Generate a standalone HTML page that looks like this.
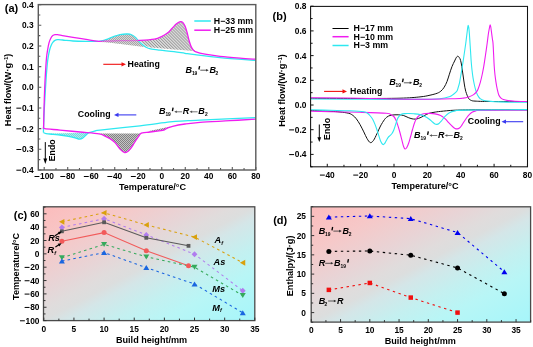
<!DOCTYPE html>
<html><head><meta charset="utf-8"><style>
html,body{margin:0;padding:0;background:#fff;width:533px;height:347px;overflow:hidden}
svg{display:block;font-family:"Liberation Sans", sans-serif;will-change:transform}
</style></head><body>
<svg width="533" height="347" viewBox="0 0 533 347">
<defs>
<pattern id="hgray" patternUnits="userSpaceOnUse" width="2.15" height="3" patternTransform="rotate(-45)">
<rect width="2.15" height="3" fill="#dcdcdc"/><rect width="0.85" height="3" fill="#989898"/></pattern>
<pattern id="hcheck" patternUnits="userSpaceOnUse" width="2" height="2">
<rect width="2" height="2" fill="#c4c4c4"/><rect width="1" height="1" fill="#828282"/><rect x="1" y="1" width="1" height="1" fill="#828282"/></pattern>
<pattern id="hcyan" patternUnits="userSpaceOnUse" width="2" height="2">
<rect width="2" height="2" fill="#aeeeee"/><rect width="1" height="1" fill="#78dadc"/><rect x="1" y="1" width="1" height="1" fill="#78dadc"/></pattern>
<pattern id="hlight" patternUnits="userSpaceOnUse" width="2" height="2">
<rect width="2" height="2" fill="#d6d6d6"/><rect width="1" height="1" fill="#a6a6a6"/><rect x="1" y="1" width="1" height="1" fill="#a6a6a6"/></pattern>
<linearGradient id="bg" x1="0" y1="0" x2="1" y2="1">
<stop offset="0" stop-color="#fcbcbc"/><stop offset="0.19" stop-color="#f6c8c8"/><stop offset="0.36" stop-color="#e8d4d6"/><stop offset="0.45" stop-color="#e0dcdc"/><stop offset="0.5" stop-color="#dcdede"/><stop offset="0.55" stop-color="#d4e6e8"/><stop offset="0.665" stop-color="#c4f0f0"/><stop offset="0.78" stop-color="#b8f6f6"/><stop offset="1" stop-color="#a6f6fa"/></linearGradient>
</defs>
<path d="M98.9,41.3 C100.08,41.02 103.65,40.35 106,39.6 C108.35,38.85 110.67,37.63 113,36.8 C115.33,35.97 117.57,35.07 120,34.6 C122.43,34.13 125.6,33.93 127.6,34 C129.6,34.07 130.68,34.42 132,35 C133.32,35.58 134.42,36.5 135.5,37.5 C136.58,38.5 137.42,39.83 138.5,41 C139.58,42.17 140.75,43.45 142,44.5 C143.25,45.55 145.33,46.83 146,47.3 L98.9,41.3 Z" fill="url(#hlight)"/>
<path d="M140,40.4 C142.4,40.2 150.73,39.87 154.4,39.2 C158.07,38.53 159.83,37.42 162,36.4 C164.17,35.38 165.73,34.42 167.4,33.1 C169.07,31.78 170.48,30.05 172,28.5 C173.52,26.95 175.1,24.95 176.5,23.8 C177.9,22.65 179.32,21.8 180.4,21.6 C181.48,21.4 182.23,21.87 183,22.6 C183.77,23.33 184.33,24.42 185,26 C185.67,27.58 186.33,29.73 187,32.1 C187.67,34.47 188.33,37.85 189,40.2 C189.67,42.55 190.33,44.68 191,46.2 C191.67,47.72 192.33,48.57 193,49.3 C193.67,50.03 194.67,50.38 195,50.6 L195,51.2 L185,50.3 L173.9,49.4 L160,48.3 L150.5,47.4 L146,45.9 L142.5,43.3 L140,41.2 Z" fill="url(#hgray)"/>
<path d="M99,133.6 C100,134.02 103.17,135.27 105,136.1 C106.83,136.93 108.33,137.52 110,138.6 C111.67,139.68 113.33,140.85 115,142.6 C116.67,144.35 118.45,147.48 120,149.1 C121.55,150.72 123.13,151.82 124.3,152.3 C125.47,152.78 126.05,152.48 127,152 C127.95,151.52 129,150.55 130,149.4 C131,148.25 132,146.65 133,145.1 C134,143.55 135.08,141.53 136,140.1 C136.92,138.67 137.75,137.58 138.5,136.5 C139.25,135.42 140.17,134.08 140.5,133.6 Z" fill="url(#hcheck)"/>
<path d="M46,133.6 C47.17,133.73 50.67,134.17 53,134.4 C55.33,134.63 57.67,134.72 60,135 C62.33,135.28 64.5,135.63 67,136.1 C69.5,136.57 72.92,137.3 75,137.8 C77.08,138.3 78.25,139.02 79.5,139.1 C80.75,139.18 81.42,138.98 82.5,138.3 C83.58,137.62 84.92,135.93 86,135 C87.08,134.07 88.5,133.08 89,132.7 Z" fill="url(#hcyan)"/>
<path d="M148,131.2 L170.5,126.4 L168,127.6 L165.5,129.2 L163.6,130.1 L159,130.7 L152,131.6 Z" fill="url(#hcheck)"/>
<path d="M43.4,132.5 C43.5,129.58 43.77,120.42 44,115 C44.23,109.58 44.47,105.83 44.8,100 C45.13,94.17 45.58,86 46,80 C46.42,74 46.9,68 47.3,64 C47.7,60 48.02,58.33 48.4,56 C48.78,53.67 49.13,51.8 49.6,50 C50.07,48.2 50.63,46.52 51.2,45.2 C51.77,43.88 52.37,42.9 53,42.1 C53.63,41.3 54.25,40.8 55,40.4 C55.75,40 56.5,39.8 57.5,39.7 C58.5,39.6 59.75,39.7 61,39.8 C62.25,39.9 63,40.1 65,40.3 C67,40.5 69.5,40.83 73,41 C76.5,41.17 81.68,41.25 86,41.3 C90.32,41.35 95.57,41.58 98.9,41.3 C102.23,41.02 103.65,40.35 106,39.6 C108.35,38.85 110.67,37.63 113,36.8 C115.33,35.97 117.57,35.07 120,34.6 C122.43,34.13 125.6,33.93 127.6,34 C129.6,34.07 130.68,34.42 132,35 C133.32,35.58 134.42,36.5 135.5,37.5 C136.58,38.5 137.42,39.87 138.5,41 C139.58,42.13 140.75,43.27 142,44.3 C143.25,45.33 144.58,46.43 146,47.2 C147.42,47.97 148.17,48.4 150.5,48.9 C152.83,49.4 156.1,49.75 160,50.2 C163.9,50.65 169.73,51.08 173.9,51.6 C178.07,52.12 181.48,52.78 185,53.3 C188.52,53.82 189.17,53.98 195,54.7 C200.83,55.42 209.92,56.65 220,57.6 C230.08,58.55 249.58,59.93 255.5,60.4" stroke="#2ee8f0" stroke-width="1.3" fill="none" stroke-linejoin="round"/>
<path d="M255.5,117.6 C246.25,118.02 211.75,119.55 200,120.1 C188.25,120.65 190,120.62 185,120.9 C180,121.18 177.5,120.98 170,121.8 C162.5,122.62 151.67,124.42 140,125.8 C128.33,127.18 107.5,129.23 100,130.1 C92.5,130.97 96.83,130.57 95,131 C93.17,131.43 90.5,132.03 89,132.7 C87.5,133.37 87.08,134.07 86,135 C84.92,135.93 83.58,137.62 82.5,138.3 C81.42,138.98 80.75,139.18 79.5,139.1 C78.25,139.02 77.08,138.3 75,137.8 C72.92,137.3 69.5,136.57 67,136.1 C64.5,135.63 62.33,135.28 60,135 C57.67,134.72 55.33,134.63 53,134.4 C50.67,134.17 47.6,133.92 46,133.6 C44.4,133.28 43.83,132.68 43.4,132.5" stroke="#2ee8f0" stroke-width="1.3" fill="none" stroke-linejoin="round"/>
<path d="M43.6,128 C43.67,125 43.83,116.33 44,110 C44.17,103.67 44.35,96.33 44.6,90 C44.85,83.67 45.18,77.33 45.5,72 C45.82,66.67 46.15,61.67 46.5,58 C46.85,54.33 47.18,52.53 47.6,50 C48.02,47.47 48.47,44.77 49,42.8 C49.53,40.83 50.17,39.4 50.8,38.2 C51.43,37 52.1,36.2 52.8,35.6 C53.5,35 54.22,34.75 55,34.6 C55.78,34.45 56,34.48 57.5,34.7 C59,34.92 61.42,35.47 64,35.9 C66.58,36.33 69.33,36.73 73,37.3 C76.67,37.87 81.68,38.63 86,39.3 C90.32,39.97 93.23,41.07 98.9,41.3 C104.57,41.53 113.15,40.85 120,40.7 C126.85,40.55 134.27,40.65 140,40.4 C145.73,40.15 150.73,39.87 154.4,39.2 C158.07,38.53 159.83,37.42 162,36.4 C164.17,35.38 165.73,34.42 167.4,33.1 C169.07,31.78 170.48,30.05 172,28.5 C173.52,26.95 175.1,24.95 176.5,23.8 C177.9,22.65 179.32,21.8 180.4,21.6 C181.48,21.4 182.23,21.87 183,22.6 C183.77,23.33 184.33,24.42 185,26 C185.67,27.58 186.33,29.73 187,32.1 C187.67,34.47 188.33,37.85 189,40.2 C189.67,42.55 190.33,44.63 191,46.2 C191.67,47.77 192.17,48.65 193,49.6 C193.83,50.55 194,51.13 196,51.9 C198,52.67 201,53.47 205,54.2 C209,54.93 214.17,55.65 220,56.3 C225.83,56.95 234.08,57.62 240,58.1 C245.92,58.58 252.92,59.02 255.5,59.2" stroke="#f01cf0" stroke-width="1.3" fill="none" stroke-linejoin="round"/>
<path d="M255.5,119.2 C251.25,119.45 239.25,120.18 230,120.7 C220.75,121.22 207.5,121.75 200,122.3 C192.5,122.85 189.57,123.33 185,124 C180.43,124.67 175.6,125.58 172.6,126.3 C169.6,127.02 168.5,127.65 167,128.3 C165.5,128.95 164.93,129.78 163.6,130.2 C162.27,130.62 161.27,130.5 159,130.8 C156.73,131.1 152.75,131.65 150,132 C147.25,132.35 144.08,132.6 142.5,132.9 C140.92,133.2 141.17,133.2 140.5,133.8 C139.83,134.4 139.25,135.45 138.5,136.5 C137.75,137.55 136.92,138.67 136,140.1 C135.08,141.53 134,143.55 133,145.1 C132,146.65 131,148.25 130,149.4 C129,150.55 127.95,151.52 127,152 C126.05,152.48 125.47,152.78 124.3,152.3 C123.13,151.82 121.55,150.72 120,149.1 C118.45,147.48 116.67,144.35 115,142.6 C113.33,140.85 111.67,139.68 110,138.6 C108.33,137.52 106.83,136.9 105,136.1 C103.17,135.3 103.17,134.48 99,133.8 C94.83,133.12 86.5,132.62 80,132 C73.5,131.38 65.87,130.65 60,130.1 C54.13,129.55 47.53,129.05 44.8,128.7 C42.07,128.35 43.8,128.12 43.6,128" stroke="#f01cf0" stroke-width="1.3" fill="none" stroke-linejoin="round"/>
<path d="M106.3,40.35 C107.47,39.88 110.97,38.38 113.3,37.55 C115.63,36.72 117.87,35.82 120.3,35.35 C122.73,34.88 125.9,34.68 127.9,34.75 C129.9,34.82 130.98,35.17 132.3,35.75 C133.62,36.33 134.72,37.25 135.8,38.25 C136.88,39.25 137.72,40.58 138.8,41.75 C139.88,42.92 141.72,44.67 142.3,45.25 L99.5,41.9 Z" fill="url(#hlight)" opacity="0.55"/>
<rect x="38.3" y="4.6" width="217.5" height="165.4" fill="none" stroke="#5a5a5a" stroke-width="1.4"/>
<path d="M44.2,170 v-3 M67.71,170 v-3 M91.22,170 v-3 M114.74,170 v-3 M138.25,170 v-3 M161.76,170 v-3 M185.27,170 v-3 M208.78,170 v-3 M232.3,170 v-3 M255.81,170 v-3 M55.96,170 v-2 M79.47,170 v-2 M102.98,170 v-2 M126.49,170 v-2 M150,170 v-2 M173.52,170 v-2 M197.03,170 v-2 M220.54,170 v-2 M244.05,170 v-2 M38.3,170 h3 M38.3,149.32 h3 M38.3,128.65 h3 M38.3,107.97 h3 M38.3,87.3 h3 M38.3,66.62 h3 M38.3,45.95 h3 M38.3,25.28 h3 M38.3,4.6 h3 M38.3,159.66 h2 M38.3,138.99 h2 M38.3,118.31 h2 M38.3,97.64 h2 M38.3,76.96 h2 M38.3,56.29 h2 M38.3,35.61 h2 M38.3,14.94 h2 " stroke="#5a5a5a" stroke-width="1.1" fill="none"/>
<path d="M16.37,170.19 h4.9" stroke="#000" stroke-width="1.01"/>
<text x="21.92" y="173" font-size="8.4" font-weight="bold">0.4</text>
<path d="M16.37,149.51 h4.9" stroke="#000" stroke-width="1.01"/>
<text x="21.92" y="152.32" font-size="8.4" font-weight="bold">0.3</text>
<path d="M16.37,128.84 h4.9" stroke="#000" stroke-width="1.01"/>
<text x="21.92" y="131.65" font-size="8.4" font-weight="bold">0.2</text>
<path d="M16.37,108.16 h4.9" stroke="#000" stroke-width="1.01"/>
<text x="21.92" y="110.97" font-size="8.4" font-weight="bold">0.1</text>
<text x="21.92" y="90.3" font-size="8.4" font-weight="bold">0.0</text>
<text x="21.92" y="69.62" font-size="8.4" font-weight="bold">0.1</text>
<text x="21.92" y="48.95" font-size="8.4" font-weight="bold">0.2</text>
<text x="21.92" y="28.28" font-size="8.4" font-weight="bold">0.3</text>
<text x="21.92" y="7.6" font-size="8.4" font-weight="bold">0.4</text>
<path d="M34.49,176.49 h4.9" stroke="#000" stroke-width="1.01"/>
<text x="40.04" y="179.3" font-size="8.4" font-weight="bold">100</text>
<path d="M60.34,176.49 h4.9" stroke="#000" stroke-width="1.01"/>
<text x="65.89" y="179.3" font-size="8.4" font-weight="bold">80</text>
<path d="M83.85,176.49 h4.9" stroke="#000" stroke-width="1.01"/>
<text x="89.4" y="179.3" font-size="8.4" font-weight="bold">60</text>
<path d="M107.37,176.49 h4.9" stroke="#000" stroke-width="1.01"/>
<text x="112.92" y="179.3" font-size="8.4" font-weight="bold">40</text>
<path d="M130.88,176.49 h4.9" stroke="#000" stroke-width="1.01"/>
<text x="136.43" y="179.3" font-size="8.4" font-weight="bold">20</text>
<text x="159.42" y="179.3" font-size="8.4" font-weight="bold">0</text>
<text x="180.6" y="179.3" font-size="8.4" font-weight="bold">20</text>
<text x="204.11" y="179.3" font-size="8.4" font-weight="bold">40</text>
<text x="227.63" y="179.3" font-size="8.4" font-weight="bold">60</text>
<text x="251.14" y="179.3" font-size="8.4" font-weight="bold">80</text>
<text x="152.5" y="189.7" font-size="9.1" text-anchor="middle" font-weight="bold" font-style="normal" fill="#000">Temperature/°C</text>
<text transform="translate(11.1,89.9) rotate(-90)" font-size="9.1" text-anchor="middle" font-weight="bold">Heat flow/(W·g<tspan dy="-3" font-size="5.5">−1</tspan><tspan dy="3">)</tspan></text>
<text x="4.8" y="11.7" font-size="11" text-anchor="start" font-weight="bold" font-style="normal" fill="#000">(a)</text>
<path d="M194.3,21 H210.8" stroke="#2ee8f0" stroke-width="1.5"/>
<path d="M194.3,30.2 H210.8" stroke="#f01cf0" stroke-width="1.5"/>
<text x="213.8" y="23.9" font-size="8.8" text-anchor="start" font-weight="bold" font-style="normal" fill="#000">H−33 mm</text>
<text x="213.8" y="33" font-size="8.8" text-anchor="start" font-weight="bold" font-style="normal" fill="#000">H−25 mm</text>
<path d="M103.3,64.3 H122.5" stroke="#f01010" stroke-width="1.1"/><path d="M121.5,62.2 L126,64.3 L121.5,66.4 Z" fill="#f01010"/>
<text x="127.6" y="67" font-size="8.8" text-anchor="start" font-weight="bold" font-style="normal" fill="#000">Heating</text>
<text x="77.8" y="116.6" font-size="8.8" text-anchor="start" font-weight="bold" font-style="normal" fill="#000">Cooling</text>
<path d="M117.5,114.9 H136.3" stroke="#3a3af0" stroke-width="1.1"/><path d="M118.5,112.8 L114,114.9 L118.5,117 Z" fill="#3a3af0"/>
<text x="185.6" y="72.8" font-size="9" font-weight="bold" font-style="italic">B</text>
<text x="191.9" y="74.7" font-size="4.9" font-weight="bold">19</text>
<path d="M199.6,66.1 L198.9,69.5" stroke="#000" stroke-width="1.35"/>
<path d="M200.3,70.2 H207.2" stroke="#333" stroke-width="0.8"/><path d="M206.1,68.9 L208.7,70.2 L206.1,71.5 Z" fill="#333"/>
<text x="209.4" y="72.8" font-size="9" font-weight="bold" font-style="italic">B</text>
<text x="215.6" y="74.7" font-size="4.9" font-weight="bold">2</text>
<text x="158.9" y="114.4" font-size="9" font-weight="bold" font-style="italic">B</text>
<text x="165.4" y="116.3" font-size="4.9" font-weight="bold">19</text>
<path d="M173.1,107.7 L172.4,111.1" stroke="#000" stroke-width="1.35"/>
<path d="M175.7,111.8 H182.1" stroke="#555" stroke-width="0.8"/><path d="M176.8,110.5 L174.2,111.8 L176.8,113.1 Z" fill="#555"/>
<text x="182.8" y="114.4" font-size="9" font-weight="bold" font-style="italic">R</text>
<path d="M191,111.8 H197.6" stroke="#555" stroke-width="0.8"/><path d="M192.1,110.5 L189.5,111.8 L192.1,113.1 Z" fill="#555"/>
<text x="198.2" y="114.4" font-size="9" font-weight="bold" font-style="italic">B</text>
<text x="204.9" y="116.3" font-size="4.9" font-weight="bold">2</text>
<path d="M45.3,142.1 V160" stroke="#000" stroke-width="1"/><path d="M43.4,158.6 L45.3,164 L47.2,158.6 Z" fill="#000"/>
<text transform="translate(54.6,150.3) rotate(-90)" font-size="8.8" text-anchor="middle" font-weight="bold">Endo</text>
<path d="M311,110.5 C314.17,110.63 325.17,111.05 330,111.3 C334.83,111.55 336.87,111.67 340,112 C343.13,112.33 346.63,112.72 348.8,113.3 C350.97,113.88 351.75,114.58 353,115.5 C354.25,116.42 355.13,117.3 356.3,118.8 C357.47,120.3 358.75,122.32 360,124.5 C361.25,126.68 362.63,129.57 363.8,131.9 C364.97,134.23 365.92,136.72 367,138.5 C368.08,140.28 369.22,142.28 370.3,142.6 C371.38,142.92 372.4,141.87 373.5,140.4 C374.6,138.93 375.73,136.2 376.9,133.8 C378.07,131.4 379.25,128.35 380.5,126 C381.75,123.65 383.32,121.2 384.4,119.7 C385.48,118.2 386.07,117.7 387,117 C387.93,116.3 388.67,115.87 390,115.5 C391.33,115.13 393.12,114.88 395,114.8 C396.88,114.72 399.63,114.78 401.3,115 C402.97,115.22 403.75,115.63 405,116.1 C406.25,116.57 407.63,117.35 408.8,117.8 C409.97,118.25 410.9,118.58 412,118.8 C413.1,119.02 414.32,119.17 415.4,119.1 C416.48,119.03 417.42,118.77 418.5,118.4 C419.58,118.03 420.27,117.7 421.9,116.9 C423.53,116.1 426.28,114.37 428.3,113.6 C430.32,112.83 431.95,112.67 434,112.3 C436.05,111.93 437.08,111.75 440.6,111.4 C444.12,111.05 448.53,110.47 455.1,110.2 C461.67,109.93 468.02,109.87 480,109.8 C491.98,109.73 519.17,109.8 527,109.8" stroke="#111" stroke-width="1.0" fill="none" stroke-linejoin="round"/>
<path d="M311,111.1 C314.17,111.2 321.83,111.5 330,111.7 C338.17,111.9 350.62,112.05 360,112.3 C369.38,112.55 381.22,112.85 386.3,113.2 C391.38,113.55 389.25,113.85 390.5,114.4 C391.75,114.95 392.92,115.6 393.8,116.5 C394.68,117.4 395.18,118.48 395.8,119.8 C396.42,121.12 396.83,122.37 397.5,124.4 C398.17,126.43 399.02,129.18 399.8,132 C400.58,134.82 401.57,138.88 402.2,141.3 C402.83,143.72 403.13,145.23 403.6,146.5 C404.07,147.77 404.47,148.73 405,148.9 C405.53,149.07 406.17,148.52 406.8,147.5 C407.43,146.48 408.17,144.63 408.8,142.8 C409.43,140.97 409.98,138.72 410.6,136.5 C411.22,134.28 411.88,131.67 412.5,129.5 C413.12,127.33 413.67,125.28 414.3,123.5 C414.93,121.72 415.52,120.08 416.3,118.8 C417.08,117.52 418.07,116.55 419,115.8 C419.93,115.05 420.73,114.68 421.9,114.3 C423.07,113.92 424.65,113.65 426,113.5 C427.35,113.35 428.5,113.33 430,113.4 C431.5,113.47 433.23,113.55 435,113.9 C436.77,114.25 438.93,114.72 440.6,115.5 C442.27,116.28 443.62,117.38 445,118.6 C446.38,119.82 447.65,121.48 448.9,122.8 C450.15,124.12 451.48,125.57 452.5,126.5 C453.52,127.43 454.22,128 455,128.4 C455.78,128.8 456.45,128.97 457.2,128.9 C457.95,128.83 458.78,128.52 459.5,128 C460.22,127.48 460.87,126.67 461.5,125.8 C462.13,124.93 462.47,124.1 463.3,122.8 C464.13,121.5 465.47,119.4 466.5,118 C467.53,116.6 468.5,115.38 469.5,114.4 C470.5,113.42 471.47,112.68 472.5,112.1 C473.53,111.52 474.12,111.18 475.7,110.9 C477.28,110.62 473.45,110.5 482,110.4 C490.55,110.3 519.5,110.32 527,110.3" stroke="#f01cf0" stroke-width="1.1" fill="none" stroke-linejoin="round"/>
<path d="M311,109.8 C314.17,109.88 323.5,110.13 330,110.3 C336.5,110.47 344.37,110.55 350,110.8 C355.63,111.05 360.88,111.38 363.8,111.8 C366.72,112.22 366.42,112.6 367.5,113.3 C368.58,114 369.42,114.97 370.3,116 C371.18,117.03 372.02,118.1 372.8,119.5 C373.58,120.9 374.3,122.65 375,124.4 C375.7,126.15 376.37,128.13 377,130 C377.63,131.87 378.17,133.68 378.8,135.6 C379.43,137.52 380.12,140.02 380.8,141.5 C381.48,142.98 382.27,144.15 382.9,144.5 C383.53,144.85 384.03,144.25 384.6,143.6 C385.17,142.95 385.7,141.65 386.3,140.6 C386.9,139.55 387.58,138.13 388.2,137.3 C388.82,136.47 389.37,136.23 390,135.6 C390.63,134.97 391.37,134.43 392,133.5 C392.63,132.57 393.17,131.58 393.8,130 C394.43,128.42 395.18,125.87 395.8,124 C396.42,122.13 396.9,120.17 397.5,118.8 C398.1,117.43 398.77,116.57 399.4,115.8 C400.03,115.03 400.37,114.57 401.3,114.2 C402.23,113.83 403.75,113.72 405,113.6 C406.25,113.48 407.3,113.47 408.8,113.5 C410.3,113.53 412.13,113.62 414,113.8 C415.87,113.98 418.17,114.15 420,114.6 C421.83,115.05 423.5,115.77 425,116.5 C426.5,117.23 427.75,118.08 429,119 C430.25,119.92 431.5,121.17 432.5,122 C433.5,122.83 434.27,123.6 435,124 C435.73,124.4 436.23,124.48 436.9,124.4 C437.57,124.32 438.23,124.1 439,123.5 C439.77,122.9 440.53,121.93 441.5,120.8 C442.47,119.67 443.55,118 444.8,116.7 C446.05,115.4 447.28,113.97 449,113 C450.72,112.03 452.43,111.38 455.1,110.9 C457.77,110.42 453.02,110.32 465,110.1 C476.98,109.88 516.67,109.68 527,109.6" stroke="#2ee8f0" stroke-width="1.1" fill="none" stroke-linejoin="round"/>
<path d="M311,98.3 C319.17,98.33 345.17,98.52 360,98.5 C374.83,98.48 390,98.47 400,98.2 C410,97.93 415,97.4 420,96.9 C425,96.4 427.12,95.82 430,95.2 C432.88,94.58 435.47,93.9 437.3,93.2 C439.13,92.5 439.85,92 441,91 C442.15,90 443.2,88.78 444.2,87.2 C445.2,85.62 446.13,83.67 447,81.5 C447.87,79.33 448.57,76.7 449.4,74.2 C450.23,71.7 451.13,68.7 452,66.5 C452.87,64.3 453.85,62.55 454.6,61 C455.35,59.45 455.93,57.98 456.5,57.2 C457.07,56.42 457.43,56.08 458,56.3 C458.57,56.52 459.37,57.38 459.9,58.5 C460.43,59.62 460.8,61.08 461.2,63 C461.6,64.92 461.95,67.67 462.3,70 C462.65,72.33 462.97,74.67 463.3,77 C463.63,79.33 463.88,81.58 464.3,84 C464.72,86.42 465.1,89.13 465.8,91.5 C466.5,93.87 467.63,96.73 468.5,98.2 C469.37,99.67 469.92,99.82 471,100.3 C472.08,100.78 471.83,100.9 475,101.1 C478.17,101.3 481.33,101.42 490,101.5 C498.67,101.58 520.83,101.58 527,101.6" stroke="#111" stroke-width="1.0" fill="none" stroke-linejoin="round"/>
<path d="M311,99 C319.17,99.05 341.83,99.23 360,99.3 C378.17,99.37 406.67,99.5 420,99.4 C433.33,99.3 435.1,99.15 440,98.7 C444.9,98.25 447.15,97.45 449.4,96.7 C451.65,95.95 452.27,95.1 453.5,94.2 C454.73,93.3 456.02,92.42 456.8,91.3 C457.58,90.18 457.73,89 458.2,87.5 C458.67,86 459.07,84.88 459.6,82.3 C460.13,79.72 460.82,75.47 461.4,72 C461.98,68.53 462.58,64.83 463.1,61.5 C463.62,58.17 464.05,55.08 464.5,52 C464.95,48.92 465.4,46 465.8,43 C466.2,40 466.58,36.57 466.9,34 C467.22,31.43 467.48,29.07 467.7,27.6 C467.92,26.13 468.02,25.2 468.2,25.2 C468.38,25.2 468.6,26.13 468.8,27.6 C469,29.07 469.2,31.43 469.4,34 C469.6,36.57 469.8,40 470,43 C470.2,46 470.4,48.92 470.6,52 C470.8,55.08 470.97,58.5 471.2,61.5 C471.43,64.5 471.7,67.3 472,70 C472.3,72.7 472.62,75.28 473,77.7 C473.38,80.12 473.83,82.38 474.3,84.5 C474.77,86.62 475.27,88.65 475.8,90.4 C476.33,92.15 476.8,93.65 477.5,95 C478.2,96.35 478.75,97.53 480,98.5 C481.25,99.47 481.67,100.23 485,100.8 C488.33,101.37 493,101.65 500,101.9 C507,102.15 522.5,102.23 527,102.3" stroke="#2ee8f0" stroke-width="1.1" fill="none" stroke-linejoin="round"/>
<path d="M311,97.7 C319.17,97.78 341.83,97.93 360,98.2 C378.17,98.47 404.17,99.22 420,99.3 C435.83,99.38 447.8,98.9 455,98.7 C462.2,98.5 460.95,98.4 463.2,98.1 C465.45,97.8 466.77,97.48 468.5,96.9 C470.23,96.32 472.27,95.45 473.6,94.6 C474.93,93.75 475.77,92.7 476.5,91.8 C477.23,90.9 477.37,90.78 478,89.2 C478.63,87.62 479.6,84.75 480.3,82.3 C481,79.85 481.62,77.18 482.2,74.5 C482.78,71.82 483.25,69.45 483.8,66.2 C484.35,62.95 484.93,58.87 485.5,55 C486.07,51.13 486.7,46.67 487.2,43 C487.7,39.33 488.1,35.67 488.5,33 C488.9,30.33 489.32,28.38 489.6,27 C489.88,25.62 490,24.7 490.2,24.7 C490.4,24.7 490.57,25.62 490.8,27 C491.03,28.38 491.33,31 491.6,33 C491.87,35 492.17,37.33 492.4,39 C492.63,40.67 492.8,40.5 493,43 C493.2,45.5 493.4,50.17 493.6,54 C493.8,57.83 493.97,62.5 494.2,66 C494.43,69.5 494.7,72.28 495,75 C495.3,77.72 495.63,79.97 496,82.3 C496.37,84.63 496.73,86.88 497.2,89 C497.67,91.12 498.17,93.47 498.8,95 C499.43,96.53 500.23,97.43 501,98.2 C501.77,98.97 502.23,99.2 503.4,99.6 C504.57,100 506.07,100.33 508,100.6 C509.93,100.87 511.83,101.05 515,101.2 C518.17,101.35 525,101.45 527,101.5" stroke="#f01cf0" stroke-width="1.1" fill="none" stroke-linejoin="round"/>
<rect x="310.6" y="6.4" width="216.9" height="160.4" fill="none" stroke="#111" stroke-width="1.05"/>
<path d="M327.28,166.8 v-3 M360.64,166.8 v-3 M394,166.8 v-3 M427.36,166.8 v-3 M460.72,166.8 v-3 M494.08,166.8 v-3 M527.44,166.8 v-3 M310.6,166.8 v-2 M343.96,166.8 v-2 M377.32,166.8 v-2 M410.68,166.8 v-2 M444.04,166.8 v-2 M477.4,166.8 v-2 M510.76,166.8 v-2 M310.6,154.4 h3 M310.6,129.7 h3 M310.6,105 h3 M310.6,80.3 h3 M310.6,55.6 h3 M310.6,30.9 h3 M310.6,6.2 h3 M310.6,166.75 h2 M310.6,142.05 h2 M310.6,117.35 h2 M310.6,92.65 h2 M310.6,67.95 h2 M310.6,43.25 h2 M310.6,18.55 h2 " stroke="#111" stroke-width="1" fill="none"/>
<path d="M289.17,154.59 h4.9" stroke="#000" stroke-width="1.01"/>
<text x="294.72" y="157.4" font-size="8.4" font-weight="bold">0.4</text>
<path d="M289.17,129.89 h4.9" stroke="#000" stroke-width="1.01"/>
<text x="294.72" y="132.7" font-size="8.4" font-weight="bold">0.2</text>
<text x="294.72" y="108" font-size="8.4" font-weight="bold">0.0</text>
<text x="294.72" y="83.3" font-size="8.4" font-weight="bold">0.2</text>
<text x="294.72" y="58.6" font-size="8.4" font-weight="bold">0.4</text>
<text x="294.72" y="33.9" font-size="8.4" font-weight="bold">0.6</text>
<text x="294.72" y="9.2" font-size="8.4" font-weight="bold">0.8</text>
<path d="M319.91,175.09 h4.9" stroke="#000" stroke-width="1.01"/>
<text x="325.46" y="177.9" font-size="8.4" font-weight="bold">40</text>
<path d="M353.27,175.09 h4.9" stroke="#000" stroke-width="1.01"/>
<text x="358.82" y="177.9" font-size="8.4" font-weight="bold">20</text>
<text x="391.66" y="177.9" font-size="8.4" font-weight="bold">0</text>
<text x="422.69" y="177.9" font-size="8.4" font-weight="bold">20</text>
<text x="456.05" y="177.9" font-size="8.4" font-weight="bold">40</text>
<text x="489.41" y="177.9" font-size="8.4" font-weight="bold">60</text>
<text x="522.77" y="177.9" font-size="8.4" font-weight="bold">80</text>
<text x="425" y="189.4" font-size="9.1" text-anchor="middle" font-weight="bold" font-style="normal" fill="#000">Temperature/°C</text>
<text transform="translate(284.8,90.5) rotate(-90)" font-size="9.1" text-anchor="middle" font-weight="bold">Heat flow/(W·g<tspan dy="-3" font-size="5.5">−1</tspan><tspan dy="3">)</tspan></text>
<text x="272.6" y="19.6" font-size="11" text-anchor="start" font-weight="bold" font-style="normal" fill="#000">(b)</text>
<path d="M332.5,28.5 H348.6" stroke="#000" stroke-width="1"/>
<path d="M332.5,36.7 H348.6" stroke="#f01cf0" stroke-width="1.5"/>
<path d="M332.5,45.5 H348.6" stroke="#2ee8f0" stroke-width="1.5"/>
<text x="353.6" y="30.9" font-size="8.8" text-anchor="start" font-weight="bold" font-style="normal" fill="#000">H−17 mm</text>
<text x="353.6" y="39.6" font-size="8.8" text-anchor="start" font-weight="bold" font-style="normal" fill="#000">H−10 mm</text>
<text x="353.6" y="48.1" font-size="8.8" text-anchor="start" font-weight="bold" font-style="normal" fill="#000">H−3 mm</text>
<path d="M324.1,91.4 H343.5" stroke="#f01010" stroke-width="1.1"/><path d="M342.5,89.3 L347,91.4 L342.5,93.5 Z" fill="#f01010"/>
<text x="350.1" y="94.4" font-size="8.8" text-anchor="start" font-weight="bold" font-style="normal" fill="#000">Heating</text>
<text x="467.8" y="124.4" font-size="8.8" text-anchor="start" font-weight="bold" font-style="normal" fill="#000">Cooling</text>
<path d="M505,121.7 H523.2" stroke="#3a3af0" stroke-width="1.1"/><path d="M506,119.6 L501.5,121.7 L506,123.8 Z" fill="#3a3af0"/>
<text x="389.2" y="85.4" font-size="9" font-weight="bold" font-style="italic">B</text>
<text x="395.5" y="87.3" font-size="4.9" font-weight="bold">19</text>
<path d="M403.2,78.7 L402.5,82.1" stroke="#000" stroke-width="1.35"/>
<path d="M403.9,82.8 H410.8" stroke="#333" stroke-width="0.8"/><path d="M409.7,81.5 L412.3,82.8 L409.7,84.1 Z" fill="#333"/>
<text x="413" y="85.4" font-size="9" font-weight="bold" font-style="italic">B</text>
<text x="419.2" y="87.3" font-size="4.9" font-weight="bold">2</text>
<text x="414.1" y="138.1" font-size="9" font-weight="bold" font-style="italic">B</text>
<text x="420.6" y="140" font-size="4.9" font-weight="bold">19</text>
<path d="M428.3,131.4 L427.6,134.8" stroke="#000" stroke-width="1.35"/>
<path d="M430.9,135.5 H437.3" stroke="#555" stroke-width="0.8"/><path d="M432,134.2 L429.4,135.5 L432,136.8 Z" fill="#555"/>
<text x="438" y="138.1" font-size="9" font-weight="bold" font-style="italic">R</text>
<path d="M446.2,135.5 H452.8" stroke="#555" stroke-width="0.8"/><path d="M447.3,134.2 L444.7,135.5 L447.3,136.8 Z" fill="#555"/>
<text x="453.4" y="138.1" font-size="9" font-weight="bold" font-style="italic">B</text>
<text x="460.1" y="140" font-size="4.9" font-weight="bold">2</text>
<path d="M319.3,124.5 V138.5" stroke="#000" stroke-width="1"/><path d="M317.4,137.3 L319.3,142 L321.2,137.3 Z" fill="#000"/>
<text transform="translate(330.2,128.9) rotate(-90)" font-size="8.8" text-anchor="middle" font-weight="bold">Endo</text>
<rect x="43.5" y="206.8" width="211.3" height="113.8" fill="url(#bg)" stroke="none" stroke-width="0"/>
<path d="M61.89,221.81 L104.09,212.8 L146.29,224.88 L194.52,237.03 L242.76,262.73" stroke="#d9a10e" stroke-width="1.05" fill="none" stroke-dasharray="2.6,3.2"/>
<path d="M61.89,227.42 L104.09,218.74 L146.29,234.89 L194.52,254.18 L242.76,290.83" stroke="#b07cee" stroke-width="1.05" fill="none" stroke-dasharray="2.6,3.2"/>
<path d="M61.89,231.29 L104.09,222.28 L146.29,237.83 L188.5,245.84" stroke="#5a5a5a" stroke-width="1.05" fill="none"/>
<path d="M61.89,241.3 L104.09,232.62 L146.29,250.78 L188.5,265.73" stroke="#f25a5a" stroke-width="1.05" fill="none"/>
<path d="M61.89,257.72 L104.09,244.37 L146.29,256.79 L194.52,267.2 L242.76,295.5" stroke="#35aa5c" stroke-width="1.05" fill="none" stroke-dasharray="2.6,3.2"/>
<path d="M61.89,261.13 L104.09,252.52 L146.29,267.67 L194.52,284.02 L242.76,312.79" stroke="#1a66e0" stroke-width="1.05" fill="none" stroke-dasharray="2.6,3.2"/>
<path d="M58.99,221.81 L64.39,218.91 L64.39,224.71 Z" fill="#d9a10e"/>
<path d="M101.19,212.8 L106.59,209.9 L106.59,215.7 Z" fill="#d9a10e"/>
<path d="M143.39,224.88 L148.79,221.98 L148.79,227.78 Z" fill="#d9a10e"/>
<path d="M191.62,237.03 L197.02,234.13 L197.02,239.93 Z" fill="#d9a10e"/>
<path d="M239.86,262.73 L245.26,259.83 L245.26,265.63 Z" fill="#d9a10e"/>
<path d="M61.89,224.42 L64.79,227.42 L61.89,230.42 L58.99,227.42 Z" fill="#b07cee"/>
<path d="M104.09,215.74 L106.99,218.74 L104.09,221.74 L101.19,218.74 Z" fill="#b07cee"/>
<path d="M146.29,231.89 L149.19,234.89 L146.29,237.89 L143.39,234.89 Z" fill="#b07cee"/>
<path d="M194.52,251.18 L197.42,254.18 L194.52,257.18 L191.62,254.18 Z" fill="#b07cee"/>
<path d="M242.76,287.83 L245.66,290.83 L242.76,293.83 L239.86,290.83 Z" fill="#b07cee"/>
<rect x="59.99" y="229.39" width="3.8" height="3.8" fill="#5a5a5a"/>
<rect x="102.19" y="220.38" width="3.8" height="3.8" fill="#5a5a5a"/>
<rect x="144.39" y="235.93" width="3.8" height="3.8" fill="#5a5a5a"/>
<rect x="186.6" y="243.94" width="3.8" height="3.8" fill="#5a5a5a"/>
<circle cx="61.89" cy="241.3" r="2.5" fill="#f25a5a"/>
<circle cx="104.09" cy="232.62" r="2.5" fill="#f25a5a"/>
<circle cx="146.29" cy="250.78" r="2.5" fill="#f25a5a"/>
<circle cx="188.5" cy="265.73" r="2.5" fill="#f25a5a"/>
<path d="M58.89,255.32 L64.89,255.32 L61.89,260.32 Z" fill="#35aa5c"/>
<path d="M101.09,241.97 L107.09,241.97 L104.09,246.97 Z" fill="#35aa5c"/>
<path d="M143.29,254.39 L149.29,254.39 L146.29,259.39 Z" fill="#35aa5c"/>
<path d="M191.52,264.8 L197.52,264.8 L194.52,269.8 Z" fill="#35aa5c"/>
<path d="M239.76,293.1 L245.76,293.1 L242.76,298.1 Z" fill="#35aa5c"/>
<path d="M58.89,263.53 L64.89,263.53 L61.89,258.53 Z" fill="#1a66e0"/>
<path d="M101.09,254.92 L107.09,254.92 L104.09,249.92 Z" fill="#1a66e0"/>
<path d="M143.29,270.07 L149.29,270.07 L146.29,265.07 Z" fill="#1a66e0"/>
<path d="M191.52,286.42 L197.52,286.42 L194.52,281.42 Z" fill="#1a66e0"/>
<path d="M239.76,315.19 L245.76,315.19 L242.76,310.19 Z" fill="#1a66e0"/>
<rect x="43.5" y="206.8" width="211.3" height="113.8" fill="none" stroke="#4a4a4a" stroke-width="1.3"/>
<path d="M43.8,320.6 v-3 M73.94,320.6 v-3 M104.09,320.6 v-3 M134.24,320.6 v-3 M164.38,320.6 v-3 M194.52,320.6 v-3 M224.67,320.6 v-3 M254.81,320.6 v-3 M58.87,320.6 v-2 M89.02,320.6 v-2 M119.16,320.6 v-2 M149.31,320.6 v-2 M179.45,320.6 v-2 M209.6,320.6 v-2 M239.74,320.6 v-2 M43.5,320.6 h3 M43.5,307.25 h3 M43.5,293.9 h3 M43.5,280.55 h3 M43.5,267.2 h3 M43.5,253.85 h3 M43.5,240.5 h3 M43.5,227.15 h3 M43.5,213.8 h3 M43.5,313.93 h2 M43.5,300.57 h2 M43.5,287.23 h2 M43.5,273.88 h2 M43.5,260.53 h2 M43.5,247.18 h2 M43.5,233.83 h2 M43.5,220.48 h2 M43.5,207.12 h2 " stroke="#333" stroke-width="1" fill="none"/>
<path d="M19.94,320.79 h4.9" stroke="#000" stroke-width="1.01"/>
<text x="25.49" y="323.6" font-size="8.4" font-weight="bold">100</text>
<path d="M24.61,307.44 h4.9" stroke="#000" stroke-width="1.01"/>
<text x="30.16" y="310.25" font-size="8.4" font-weight="bold">80</text>
<path d="M24.61,294.09 h4.9" stroke="#000" stroke-width="1.01"/>
<text x="30.16" y="296.9" font-size="8.4" font-weight="bold">60</text>
<path d="M24.61,280.74 h4.9" stroke="#000" stroke-width="1.01"/>
<text x="30.16" y="283.55" font-size="8.4" font-weight="bold">40</text>
<path d="M24.61,267.39 h4.9" stroke="#000" stroke-width="1.01"/>
<text x="30.16" y="270.2" font-size="8.4" font-weight="bold">20</text>
<text x="34.83" y="256.85" font-size="8.4" font-weight="bold">0</text>
<text x="30.16" y="243.5" font-size="8.4" font-weight="bold">20</text>
<text x="30.16" y="230.15" font-size="8.4" font-weight="bold">40</text>
<text x="30.16" y="216.8" font-size="8.4" font-weight="bold">60</text>
<text x="41.46" y="331.9" font-size="8.4" font-weight="bold">0</text>
<text x="71.61" y="331.9" font-size="8.4" font-weight="bold">5</text>
<text x="99.42" y="331.9" font-size="8.4" font-weight="bold">10</text>
<text x="129.56" y="331.9" font-size="8.4" font-weight="bold">15</text>
<text x="159.71" y="331.9" font-size="8.4" font-weight="bold">20</text>
<text x="189.85" y="331.9" font-size="8.4" font-weight="bold">25</text>
<text x="220" y="331.9" font-size="8.4" font-weight="bold">30</text>
<text x="250.14" y="331.9" font-size="8.4" font-weight="bold">35</text>
<text x="151.6" y="343.3" font-size="9.1" text-anchor="middle" font-weight="bold" font-style="normal" fill="#000">Build height/mm</text>
<text transform="translate(18.8,266.4) rotate(-90)" font-size="9.1" text-anchor="middle" font-weight="bold">Temperature/°C</text>
<text x="13.8" y="219" font-size="11" text-anchor="start" font-weight="bold" font-style="normal" fill="#000">(c)</text>
<text x="214.5" y="242.7" font-size="9.2" font-weight="bold" font-style="italic">A<tspan font-size="5.5" dy="1.8">f</tspan></text>
<text x="213.5" y="264.6" font-size="9.2" text-anchor="start" font-weight="bold" font-style="italic" fill="#000">As</text>
<text x="212.3" y="291.5" font-size="9.2" text-anchor="start" font-weight="bold" font-style="italic" fill="#000">Ms</text>
<text x="212.3" y="310.6" font-size="9.2" font-weight="bold" font-style="italic">M<tspan font-size="5.5" dy="1.8">f</tspan></text>
<text x="48.2" y="241.3" font-size="9.2" text-anchor="start" font-weight="bold" font-style="italic" fill="#000">Rs</text>
<text x="47.5" y="253" font-size="9.2" font-weight="bold" font-style="italic">R<tspan font-size="5.5" dy="1.8">f</tspan></text>
<path d="M55,235.7 L59.2,232.98" stroke="#000" stroke-width="1.1"/>
<path d="M61.8,231.3 L59.65,234.6 L57.91,231.91 Z" fill="#000"/>
<path d="M55.4,247 L58.96,244.82" stroke="#000" stroke-width="1.1"/>
<path d="M61.6,243.2 L59.37,246.45 L57.69,243.72 Z" fill="#000"/>
<rect x="311.2" y="206.8" width="219.4" height="115.3" fill="url(#bg)" stroke="none" stroke-width="0"/>
<path d="M328.85,217.12 L369.8,215.97 L410.75,218.66 L457.55,232.52 L504.35,271.79" stroke="#0000f0" stroke-width="1.1" fill="none" stroke-dasharray="2.4,3.6"/>
<path d="M328.85,251.39 L369.8,251 L410.75,255.24 L457.55,267.94 L504.35,293.74" stroke="#000000" stroke-width="1.1" fill="none" stroke-dasharray="2.4,3.6"/>
<path d="M328.85,289.88 L369.8,282.96 L410.75,297.59 L457.55,312.6" stroke="#f01010" stroke-width="1.1" fill="none" stroke-dasharray="2.4,3.6"/>
<path d="M325.85,219.52 L331.85,219.52 L328.85,214.52 Z" fill="#0000f0"/>
<path d="M366.8,218.37 L372.8,218.37 L369.8,213.37 Z" fill="#0000f0"/>
<path d="M407.75,221.06 L413.75,221.06 L410.75,216.06 Z" fill="#0000f0"/>
<path d="M454.55,234.92 L460.55,234.92 L457.55,229.92 Z" fill="#0000f0"/>
<path d="M501.35,274.19 L507.35,274.19 L504.35,269.19 Z" fill="#0000f0"/>
<circle cx="328.85" cy="251.39" r="2.5" fill="#000000"/>
<circle cx="369.8" cy="251" r="2.5" fill="#000000"/>
<circle cx="410.75" cy="255.24" r="2.5" fill="#000000"/>
<circle cx="457.55" cy="267.94" r="2.5" fill="#000000"/>
<circle cx="504.35" cy="293.74" r="2.5" fill="#000000"/>
<rect x="326.61" y="287.64" width="4.48" height="4.48" fill="#f01010"/>
<rect x="367.56" y="280.71" width="4.48" height="4.48" fill="#f01010"/>
<rect x="408.51" y="295.34" width="4.48" height="4.48" fill="#f01010"/>
<rect x="455.31" y="310.36" width="4.48" height="4.48" fill="#f01010"/>
<rect x="311.2" y="206.8" width="219.4" height="115.3" fill="none" stroke="#4a4a4a" stroke-width="1.3"/>
<path d="M311.3,322.1 v-3 M340.55,322.1 v-3 M369.8,322.1 v-3 M399.05,322.1 v-3 M428.3,322.1 v-3 M457.55,322.1 v-3 M486.8,322.1 v-3 M516.05,322.1 v-3 M325.93,322.1 v-2 M355.18,322.1 v-2 M384.43,322.1 v-2 M413.68,322.1 v-2 M442.93,322.1 v-2 M472.18,322.1 v-2 M501.43,322.1 v-2 M530.67,322.1 v-2 M311.2,312.6 h3 M311.2,293.35 h3 M311.2,274.1 h3 M311.2,254.85 h3 M311.2,235.6 h3 M311.2,216.35 h3 M311.2,322.23 h2 M311.2,302.98 h2 M311.2,283.73 h2 M311.2,264.48 h2 M311.2,245.23 h2 M311.2,225.98 h2 M311.2,206.73 h2 " stroke="#333" stroke-width="1" fill="none"/>
<text x="301.33" y="315.6" font-size="8.4" font-weight="bold">0</text>
<text x="301.33" y="296.35" font-size="8.4" font-weight="bold">5</text>
<text x="296.66" y="277.1" font-size="8.4" font-weight="bold">10</text>
<text x="296.66" y="257.85" font-size="8.4" font-weight="bold">15</text>
<text x="296.66" y="238.6" font-size="8.4" font-weight="bold">20</text>
<text x="296.66" y="219.35" font-size="8.4" font-weight="bold">25</text>
<text x="308.96" y="332.9" font-size="8.4" font-weight="bold">0</text>
<text x="338.21" y="332.9" font-size="8.4" font-weight="bold">5</text>
<text x="365.13" y="332.9" font-size="8.4" font-weight="bold">10</text>
<text x="394.38" y="332.9" font-size="8.4" font-weight="bold">15</text>
<text x="423.63" y="332.9" font-size="8.4" font-weight="bold">20</text>
<text x="452.88" y="332.9" font-size="8.4" font-weight="bold">25</text>
<text x="482.13" y="332.9" font-size="8.4" font-weight="bold">30</text>
<text x="511.38" y="332.9" font-size="8.4" font-weight="bold">35</text>
<text x="420.3" y="343.5" font-size="9.1" text-anchor="middle" font-weight="bold" font-style="normal" fill="#000">Build height/mm</text>
<text transform="translate(292.6,265.9) rotate(-90)" font-size="9.1" text-anchor="middle" font-weight="bold">Enthalpy/(J·g)</text>
<text x="273.2" y="223.6" font-size="11" text-anchor="start" font-weight="bold" font-style="normal" fill="#000">(d)</text>
<text x="318.65" y="233.7" font-size="9" font-weight="bold" font-style="italic">B</text>
<text x="324.95" y="235.6" font-size="4.9" font-weight="bold">19</text>
<path d="M332.65,227 L331.95,230.4" stroke="#000" stroke-width="1.35"/>
<path d="M333.35,231.1 H340.25" stroke="#333" stroke-width="0.8"/><path d="M339.15,229.8 L341.75,231.1 L339.15,232.4 Z" fill="#333"/>
<text x="342.45" y="233.7" font-size="9" font-weight="bold" font-style="italic">B</text>
<text x="348.65" y="235.6" font-size="4.9" font-weight="bold">2</text>
<text x="318.65" y="265.9" font-size="9" font-weight="bold" font-style="italic">R</text>
<path d="M325.15,263.3 H331.95" stroke="#333" stroke-width="0.8"/><path d="M330.85,262 L333.45,263.3 L330.85,264.6 Z" fill="#333"/>
<text x="334.05" y="265.9" font-size="9" font-weight="bold" font-style="italic">B</text>
<text x="340.55" y="267.8" font-size="4.9" font-weight="bold">19</text>
<path d="M348.45,259.2 L347.75,262.6" stroke="#000" stroke-width="1.35"/>
<text x="318.65" y="303.6" font-size="9" font-weight="bold" font-style="italic">B</text>
<text x="324.55" y="305.5" font-size="4.9" font-weight="bold">2</text>
<path d="M328.15,301 H334.95" stroke="#333" stroke-width="0.8"/><path d="M333.85,299.7 L336.45,301 L333.85,302.3 Z" fill="#333"/>
<text x="337.05" y="303.6" font-size="9" font-weight="bold" font-style="italic">R</text>
</svg>
</body></html>
